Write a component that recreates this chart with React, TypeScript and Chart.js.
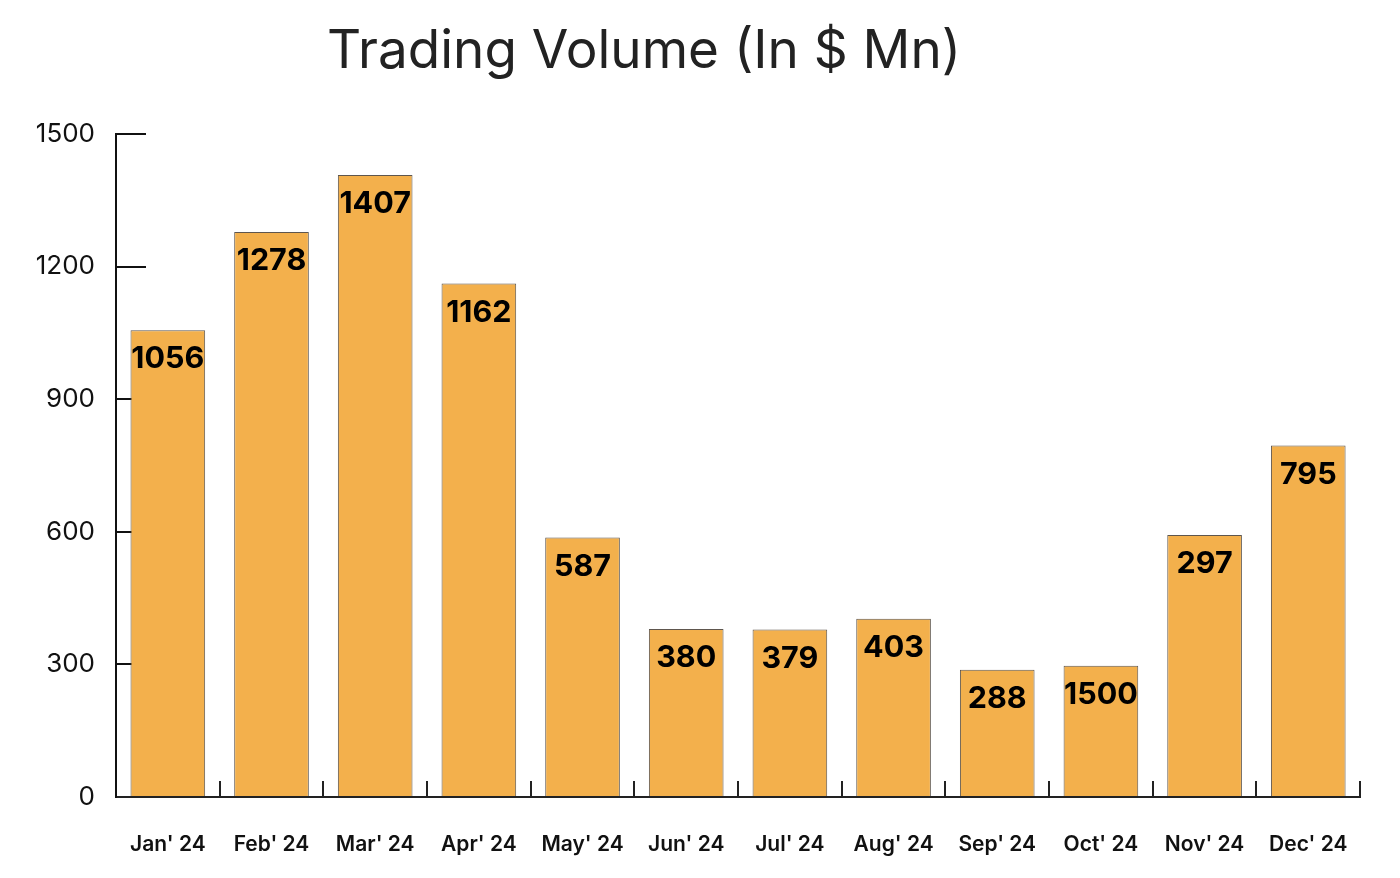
import React, { useEffect, useRef } from "react";
import { Chart, registerables } from "chart.js";

Chart.register(...registerables);

const TITLE = "Trading Volume (In $ Mn)";
const categories = ["Jan' 24", "Feb' 24", "Mar' 24", "Apr' 24", "May' 24", "Jun' 24", "Jul' 24", "Aug' 24", "Sep' 24", "Oct' 24", "Nov' 24", "Dec' 24"];
const barValues = [1056, 1278, 1407, 1162, 587, 380, 379, 403, 288, 297, 593, 795];
const barLabels = ["1056", "1278", "1407", "1162", "587", "380", "379", "403", "288", "1500", "297", "795"];
const yTicks = [0, 300, 600, 900, 1200, 1500];

const FONT = "Inter, 'Open Sans', sans-serif";

const titlePlugin = {
  id: "customTitle",
  afterDraw(chart: any) {
    const ctx = chart.ctx;
    ctx.save();
    ctx.font = `400 53px ${FONT}`;
    ctx.fillStyle = "#222222";
    ctx.textAlign = "center";
    ctx.textBaseline = "middle";
    ctx.fillText(TITLE, chart.width * 0.46, 52);
    ctx.restore();
  },
};

const valueLabelPlugin = {
  id: "valueLabels",
  afterDatasetsDraw(chart: any) {
    const ctx = chart.ctx;
    const meta = chart.getDatasetMeta(0);
    ctx.save();
    ctx.font = `700 30.5px ${FONT}`;
    ctx.fillStyle = "#000000";
    ctx.textAlign = "center";
    ctx.textBaseline = "middle";
    meta.data.forEach((bar: any, i: number) => {
      ctx.fillText(barLabels[i], bar.x, bar.y + 29);
    });
    ctx.restore();
  },
};

export default function App() {
  const ref = useRef<HTMLCanvasElement | null>(null);
  useEffect(() => {
    if (!ref.current) return;
    const chart = new Chart(ref.current, {
      type: "bar",
      data: {
        labels: categories,
        datasets: [
          {
            data: barValues,
            backgroundColor: "#F3B04C",
            borderColor: "#5e564e",
            borderWidth: 1,
            barPercentage: 0.72,
            categoryPercentage: 1,
          },
        ],
      },
      options: {
        animation: false,
        responsive: true,
        maintainAspectRatio: false,
        layout: { padding: { top: 134, right: 38, left: 0, bottom: 0 } },
        plugins: {
          legend: { display: false },
          title: { display: false },
          tooltip: { enabled: false },
        },
        scales: {
          x: {
            afterFit: (s: any) => { s.height = 81; },
            grid: { drawOnChartArea: false, tickLength: -16, color: "#222", lineWidth: 2 },
            border: { display: true, color: "#222", width: 2 },
            ticks: { color: "#111", font: { family: FONT, size: 21, weight: 600 }, padding: 51 },
          },
          y: {
            min: 0,
            max: 1500,
            afterFit: (s: any) => { s.width = 116; },
            afterBuildTicks: (s: any) => { s.ticks = yTicks.map((v) => ({ value: v })); },
            grid: { drawOnChartArea: false, tickLength: -30, color: "#111", lineWidth: 2 },
            border: { display: true, color: "#111", width: 2 },
            ticks: {
              color: "#111",
              font: { family: FONT, size: 26, weight: 400 },
              padding: 51,
              callback: (v: any) => String(v),
            },
          },
        },
      },
      plugins: [titlePlugin, valueLabelPlugin],
    });
    return () => chart.destroy();
  }, []);
  return (
    <div style={{ position: "fixed", left: 0, top: 0, width: 1400, height: 878, background: "#fff" }}>
      <canvas ref={ref} />
    </div>
  );
}
